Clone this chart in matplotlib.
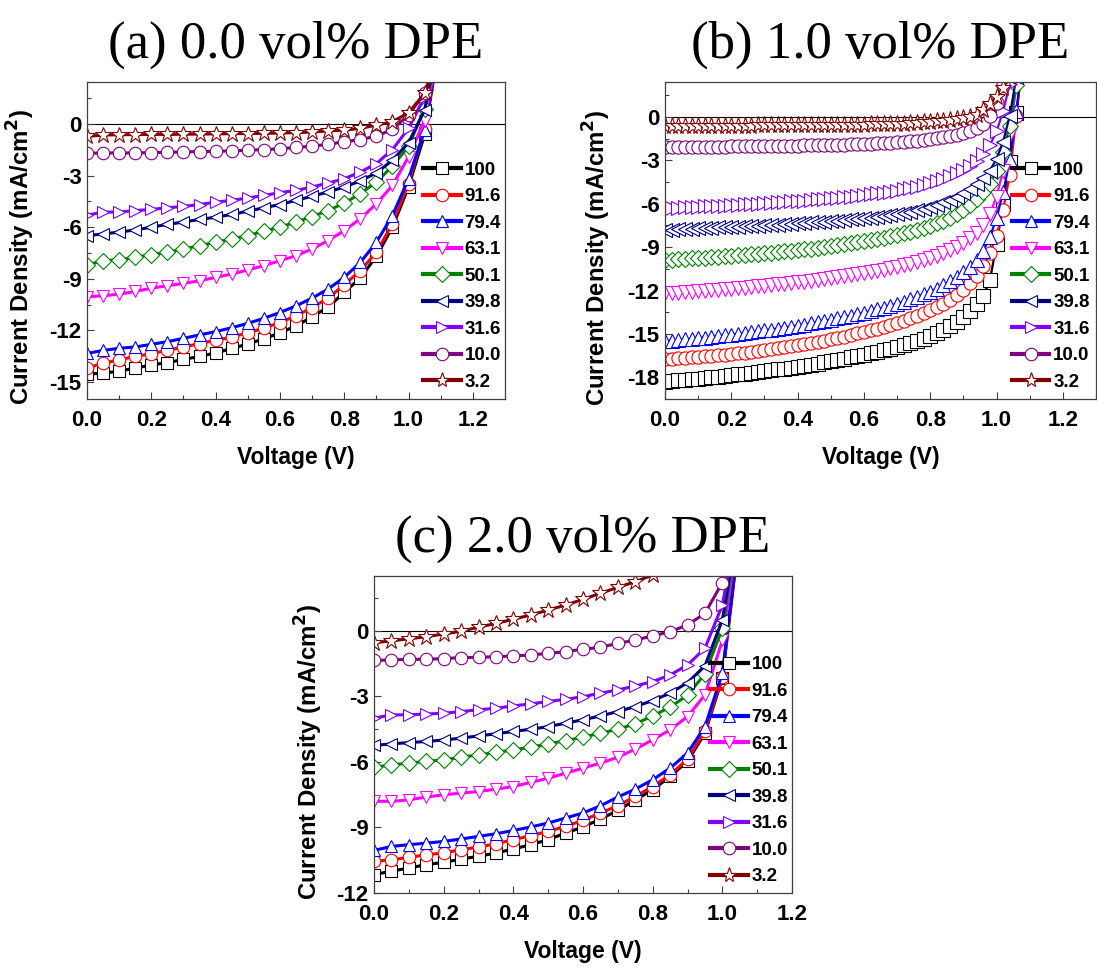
import numpy as np
import matplotlib
matplotlib.use("Agg")
import matplotlib.pyplot as plt
from matplotlib.lines import Line2D
from matplotlib.ticker import MultipleLocator, FormatStrFormatter

plt.rcParams['font.family'] = ['Liberation Sans', 'DejaVu Sans']
plt.rcParams['axes.unicode_minus'] = False

# ---------------- data ----------------
intensities = ["100", "91.6", "79.4", "63.1", "50.1", "39.8", "31.6", "10.0", "3.2"]
colors = ["#000000", "#FF0000", "#0000FF", "#FF00FF", "#008000", "#000080", "#8000FF", "#800080", "#800000"]
markers = ["s", "o", "^", "v", "D", "<", ">", "o", "*"]

titles = ["(a) 0.0 vol% DPE", "(b) 1.0 vol% DPE", "(c) 2.0 vol% DPE"]

# (a) 0.0 vol% DPE
V_a = [0.00, 0.05, 0.10, 0.15, 0.20, 0.25, 0.30, 0.35, 0.40, 0.45, 0.50, 0.55,
       0.60, 0.65, 0.70, 0.75, 0.80, 0.85, 0.90, 0.95, 1.00, 1.05, 1.10]
Ja_100 = [-14.55, -14.5, -14.38, -14.2, -14.02, -13.88, -13.7, -13.52, -13.32, -13.06, -12.8, -12.5,
          -12.15, -11.75, -11.22, -10.65, -9.8, -8.95, -7.7, -6.0, -3.65, -0.6, 5.2]
Ja_916 = [-14.2, -13.92, -13.72, -13.52, -13.36, -13.17, -12.97, -12.78, -12.58, -12.4, -12.14, -11.88,
          -11.55, -11.16, -10.68, -10.13, -9.35, -8.53, -7.46, -5.8, -3.47, -0.3, 5.3]
Ja_794 = [-13.35, -13.17, -13.05, -12.97, -12.82, -12.66, -12.47, -12.27, -12.08, -11.85, -11.6, -11.3,
          -10.97, -10.58, -10.13, -9.6, -8.92, -8.05, -6.88, -5.32, -3.18, -0.35, 5.3]
Ja_631 = [-10.05, -9.99, -9.9, -9.74, -9.55, -9.41, -9.27, -9.12, -8.92, -8.73, -8.49, -8.24,
          -7.95, -7.66, -7.27, -6.78, -6.2, -5.51, -4.64, -3.57, -1.9, 0.2, 5.2]
Ja_501 = [-8.2, -7.95, -7.9, -7.75, -7.6, -7.46, -7.27, -7.07, -6.88, -6.68, -6.49, -6.23,
          -6.0, -5.7, -5.38, -5.03, -4.6, -4.05, -3.37, -2.45, -1.29, 0.9, 5.5]
Ja_398 = [-6.5, -6.39, -6.29, -6.16, -6.0, -5.84, -5.7, -5.55, -5.42, -5.26, -5.07, -4.87,
          -4.68, -4.44, -4.2, -3.95, -3.66, -3.31, -2.84, -2.1, -1.09, 0.82, 5.5]
Ja_316 = [-5.3, -5.12, -5.12, -5.03, -4.97, -4.87, -4.79, -4.68, -4.54, -4.44, -4.3, -4.15,
          -3.99, -3.86, -3.66, -3.43, -3.18, -2.79, -2.3, -1.48, -0.25, 1.6, 5.5]
Ja_10 = [-1.7, -1.68, -1.68, -1.68, -1.66, -1.64, -1.62, -1.6, -1.58, -1.56, -1.52, -1.48,
         -1.44, -1.36, -1.29, -1.17, -1.03, -0.9, -0.7, -0.31, 0.53, 1.8, 4.5]
Ja_32 = [-0.72, -0.64, -0.62, -0.61, -0.6, -0.6, -0.59, -0.58, -0.57, -0.56, -0.55, -0.54,
         -0.52, -0.5, -0.46, -0.4, -0.35, -0.25, -0.06, 0.14, 0.66, 1.79, 4.0]

# (b) 1.0 vol% DPE
V_b = [0.00, 0.02, 0.04, 0.06, 0.08, 0.10, 0.12, 0.14, 0.16, 0.18, 0.20, 0.22, 0.24, 0.26,
       0.28, 0.30, 0.32, 0.34, 0.36, 0.38, 0.40, 0.42, 0.44, 0.46, 0.48, 0.50, 0.52, 0.54,
       0.56, 0.58, 0.60, 0.62, 0.64, 0.66, 0.68, 0.70, 0.72, 0.74, 0.76, 0.78, 0.80, 0.82,
       0.84, 0.86, 0.88, 0.90, 0.92, 0.94, 0.96, 0.98, 1.00, 1.02, 1.04, 1.06, 1.08]
Jb_100 = [-18.3, -18.26, -18.22, -18.18, -18.14, -18.1, -18.05, -18.0, -17.95, -17.9, -17.85, -17.8,
          -17.75, -17.7, -17.64, -17.58, -17.52, -17.46, -17.4, -17.33, -17.26, -17.19, -17.12,
          -17.05, -16.97, -16.89, -16.81, -16.72, -16.63, -16.54, -16.44, -16.34, -16.24, -16.13,
          -16.02, -15.9, -15.77, -15.63, -15.48, -15.32, -15.14, -14.94, -14.72, -14.47, -14.18,
          -13.84, -13.44, -12.96, -12.35, -11.3, -8.8, -6.0, -3.1, 0.3, 4.0]
Jb_916 = [-16.75, -16.72, -16.69, -16.66, -16.63, -16.6, -16.56, -16.52, -16.48, -16.44, -16.4, -16.35,
          -16.3, -16.25, -16.2, -16.1, -16.04, -15.98, -15.92, -15.85, -15.78, -15.71, -15.63,
          -15.55, -15.46, -15.37, -15.28, -15.18, -15.08, -14.97, -14.86, -14.75, -14.63, -14.5,
          -14.37, -14.23, -14.08, -13.92, -13.75, -13.57, -13.37, -13.15, -12.9, -12.62, -12.3,
          -11.93, -11.5, -11.0, -10.3, -9.4, -8.2, -6.4, -4.0, 0.1, 4.5]
Jb_794 = [-15.5, -15.46, -15.42, -15.38, -15.34, -15.3, -15.25, -15.2, -15.15, -15.1, -15.05, -15.0,
          -14.94, -14.88, -14.82, -14.76, -14.7, -14.63, -14.56, -14.49, -14.42, -14.35, -14.27,
          -14.19, -14.11, -14.02, -13.93, -13.84, -13.74, -13.64, -13.53, -13.42, -13.3, -13.18,
          -13.05, -12.91, -12.77, -12.61, -12.45, -12.27, -12.08, -11.87, -11.63, -11.37, -11.08,
          -10.75, -10.38, -9.9, -9.25, -8.3, -7.0, -5.2, -3.0, 0.4, 4.5]
Jb_631 = [-12.2, -12.17, -12.14, -12.11, -12.08, -12.05, -12.02, -11.99, -11.96, -11.92, -11.88, -11.84,
          -11.8, -11.76, -11.72, -11.68, -11.63, -11.58, -11.53, -11.48, -11.43, -11.38, -11.33,
          -11.27, -11.21, -11.15, -11.09, -11.02, -10.95, -10.88, -10.8, -10.72, -10.64, -10.55,
          -10.46, -10.36, -10.26, -10.15, -10.03, -9.9, -9.76, -9.6, -9.42, -9.22, -8.99,
          -8.72, -8.4, -8.0, -7.45, -6.7, -5.5, -3.7, -1.2, 2.2, 6.0]
Jb_501 = [-9.9, -9.87, -9.84, -9.81, -9.78, -9.75, -9.72, -9.69, -9.66, -9.63, -9.6, -9.57,
          -9.54, -9.5, -9.46, -9.42, -9.38, -9.34, -9.3, -9.25, -9.2, -9.15, -9.1,
          -9.05, -8.99, -8.93, -8.87, -8.81, -8.74, -8.67, -8.6, -8.52, -8.44, -8.35,
          -8.26, -8.16, -8.05, -7.94, -7.81, -7.67, -7.52, -7.35, -7.16, -6.95, -6.7,
          -6.42, -6.08, -5.68, -5.2, -4.6, -3.7, -2.4, -0.6, 2.2, 5.5]
Jb_398 = [-7.8, -7.78, -7.76, -7.74, -7.72, -7.7, -7.68, -7.66, -7.64, -7.62, -7.6, -7.58,
          -7.56, -7.54, -7.52, -7.5, -7.47, -7.44, -7.41, -7.38, -7.35, -7.32, -7.29,
          -7.26, -7.23, -7.2, -7.16, -7.12, -7.08, -7.04, -7.0, -6.95, -6.9, -6.84,
          -6.78, -6.71, -6.63, -6.54, -6.44, -6.33, -6.2, -6.06, -5.9, -5.72, -5.51,
          -5.27, -4.99, -4.66, -4.25, -3.7, -2.9, -1.7, 0.1, 2.8, 6.0]
Jb_316 = [-6.3, -6.28, -6.26, -6.24, -6.22, -6.2, -6.18, -6.16, -6.14, -6.12, -6.1, -6.08,
          -6.05, -6.02, -5.99, -5.96, -5.93, -5.9, -5.87, -5.84, -5.81, -5.78, -5.74,
          -5.7, -5.66, -5.62, -5.58, -5.54, -5.5, -5.45, -5.4, -5.35, -5.29, -5.23,
          -5.16, -5.09, -5.01, -4.92, -4.82, -4.71, -4.59, -4.45, -4.29, -4.11, -3.9,
          -3.66, -3.37, -3.02, -2.58, -1.95, -1.0, 0.4, 2.3, 4.5, 7.0]
Jb_10 = [-2.1, -2.09, -2.08, -2.08, -2.07, -2.07, -2.06, -2.06, -2.05, -2.05, -2.04, -2.04,
         -2.03, -2.03, -2.02, -2.02, -2.01, -2.01, -2.0, -1.99, -1.98, -1.97, -1.96,
         -1.95, -1.94, -1.93, -1.92, -1.91, -1.9, -1.88, -1.86, -1.84, -1.82, -1.8,
         -1.77, -1.74, -1.71, -1.67, -1.63, -1.58, -1.53, -1.47, -1.4, -1.32, -1.22,
         -1.1, -0.95, -0.75, -0.45, 0.1, 1.0, 2.2, 3.6, 5.0, 6.5]
Jb_32 = [-0.62, -0.62, -0.62, -0.61, -0.61, -0.61, -0.6, -0.6, -0.6, -0.6, -0.59, -0.59,
         -0.59, -0.59, -0.58, -0.58, -0.58, -0.58, -0.57, -0.57, -0.57, -0.56, -0.56,
         -0.56, -0.55, -0.55, -0.54, -0.54, -0.53, -0.53, -0.52, -0.51, -0.5, -0.49,
         -0.48, -0.47, -0.45, -0.43, -0.41, -0.38, -0.35, -0.31, -0.27, -0.22, -0.16,
         -0.08, 0.02, 0.15, 0.45, 0.9, 1.4, 2.0, 2.8, 3.9, 5.2]

# (c) 2.0 vol% DPE
V_c = [0.00, 0.05, 0.10, 0.15, 0.20, 0.25, 0.30, 0.35, 0.40, 0.45, 0.50, 0.55,
       0.60, 0.65, 0.70, 0.75, 0.80, 0.85, 0.90, 0.95, 1.00, 1.05]
Jc_100 = [-11.16, -11.0, -10.86, -10.7, -10.6, -10.45, -10.32, -10.17, -9.99, -9.79, -9.56, -9.26,
          -8.98, -8.62, -8.22, -7.74, -7.28, -6.67, -5.98, -4.69, -2.18, 4.5]
Jc_916 = [-10.55, -10.48, -10.37, -10.25, -10.17, -10.02, -9.9, -9.75, -9.56, -9.38, -9.18, -8.95,
          -8.68, -8.34, -8.01, -7.58, -7.13, -6.59, -5.88, -4.61, -2.1, 4.6]
Jc_794 = [-10.05, -9.87, -9.79, -9.72, -9.64, -9.53, -9.41, -9.29, -9.14, -8.98, -8.8, -8.57,
          -8.34, -8.01, -7.61, -7.25, -6.82, -6.29, -5.6, -4.39, -1.95, 4.7]
Jc_631 = [-7.8, -7.81, -7.74, -7.61, -7.51, -7.43, -7.36, -7.25, -7.13, -6.94, -6.75, -6.52,
          -6.29, -6.06, -5.79, -5.42, -4.99, -4.54, -3.93, -2.94, -0.45, 5.0]
Jc_501 = [-6.25, -6.14, -6.06, -5.98, -5.91, -5.79, -5.68, -5.57, -5.45, -5.33, -5.18, -5.03,
          -4.87, -4.69, -4.51, -4.26, -3.9, -3.5, -2.95, -1.98, 0.1, 5.2]
Jc_398 = [-5.25, -5.18, -5.12, -5.07, -5.0, -4.92, -4.81, -4.72, -4.61, -4.51, -4.39, -4.23,
          -4.08, -3.9, -3.7, -3.47, -3.2, -2.86, -2.38, -1.61, 0.49, 5.3]
Jc_316 = [-4.0, -3.85, -3.85, -3.81, -3.78, -3.7, -3.62, -3.55, -3.44, -3.35, -3.24, -3.14,
          -3.02, -2.86, -2.71, -2.53, -2.33, -2.03, -1.57, -0.81, 1.17, 5.5]
Jc_10 = [-1.36, -1.34, -1.31, -1.31, -1.28, -1.23, -1.22, -1.19, -1.16, -1.11, -1.04, -0.96,
         -0.85, -0.76, -0.58, -0.43, -0.24, -0.05, 0.26, 0.79, 2.2, 5.0]
Jc_32 = [-0.55, -0.47, -0.37, -0.28, -0.15, -0.03, 0.16, 0.33, 0.52, 0.72, 0.94, 1.17,
         1.43, 1.71, 1.98, 2.24, 2.54, 2.9, 3.3, 3.8, 4.4, 5.0]

panel_a = [Ja_100, Ja_916, Ja_794, Ja_631, Ja_501, Ja_398, Ja_316, Ja_10, Ja_32]
panel_b = [Jb_100, Jb_916, Jb_794, Jb_631, Jb_501, Jb_398, Jb_316, Jb_10, Jb_32]
panel_c = [Jc_100, Jc_916, Jc_794, Jc_631, Jc_501, Jc_398, Jc_316, Jc_10, Jc_32]

# ---------------- layout ----------------
W, H = 1097, 967
fig = plt.figure(figsize=(W / 100, H / 100), dpi=100)


def px_axes(l, t, r, b):
    return fig.add_axes([l / W, 1 - b / H, (r - l) / W, (b - t) / H])


def draw(ax, V, curves, xlim, ylim, title, lw, ms, legend_anchor, ylabel_xy):
    for J, c, m in zip(curves, colors, markers):
        msz = ms * (1.35 if m == '*' else (0.85 if m == 'D' else 1.0))
        ax.plot(V, J, color=c, lw=lw, marker=m, ms=msz, mfc='white', mec=c, mew=0.8,
                clip_on=True)
    ax.axhline(0, color='black', lw=0.8, zorder=0.5)
    ax.set_xlim(*xlim)
    ax.set_ylim(*ylim)
    ax.xaxis.set_major_locator(MultipleLocator(0.2))
    ax.xaxis.set_minor_locator(MultipleLocator(0.1))
    ax.xaxis.set_major_formatter(FormatStrFormatter('%.1f'))
    ax.yaxis.set_major_locator(MultipleLocator(3))
    ax.yaxis.set_minor_locator(MultipleLocator(1.5))
    ax.yaxis.set_major_formatter(FormatStrFormatter('%d'))
    ax.tick_params(which='both', direction='in', top=False, right=False, color='#404040')
    ax.tick_params(which='major', length=5, width=0.8)
    ax.tick_params(which='minor', length=3, width=0.8)
    ax.tick_params(axis='x', which='major', pad=8, labelsize=16)
    ax.tick_params(axis='y', which='major', pad=4, labelsize=16)
    for lab in ax.get_xticklabels() + ax.get_yticklabels():
        lab.set_fontweight('bold')
    for s in ax.spines.values():
        s.set_color('#404040')
        s.set_linewidth(0.9)
    ax.set_xlabel('Voltage (V)', fontsize=16.5, fontweight='bold', labelpad=11)
    ax.set_ylabel('Current Density (mA/cm$\\mathbf{^2}$)', fontsize=17.3, fontweight='bold')
    ax.yaxis.set_label_coords(*ylabel_xy)
    handles = [Line2D([], [], color=c, lw=3.0, marker=m,
                      ms=(11 if m == '*' else (8 if m == 'D' else 9)), mfc='white', mec=c, mew=0.8)
               for c, m in zip(colors, markers)]
    leg = ax.legend(handles, intensities, loc='center left', bbox_to_anchor=legend_anchor,
                    frameon=False, borderpad=0, borderaxespad=0, handlelength=2.0,
                    handletextpad=0.2, labelspacing=0.5,
                    prop={'family': 'Liberation Sans', 'weight': 'bold', 'size': 13.5})
    leg.set_zorder(5)
    # title
    bb = ax.get_position()
    fig.text((bb.x0 + bb.x1) / 2, bb.y1 + 24 / H, title, ha='center', va='baseline',
             fontsize=38, family='Liberation Serif')


ax_a = px_axes(87, 82, 505, 399)
draw(ax_a, V_a, panel_a, (0, 1.3), (-16, 2.45), titles[0], 2.2, 9, (0.805, 0.388),
     (-0.12, 0.447))

ax_b = px_axes(665, 82, 1096, 399)
draw(ax_b, V_b, panel_b, (0, 1.3), (-19.5, 2.42), titles[1], 1.6, 9.5, (0.805, 0.388),
     (-0.121, 0.446))

ax_c = px_axes(374, 576, 792, 893)
draw(ax_c, V_c, panel_c, (0, 1.2), (-12, 2.5), titles[2], 2.2, 9, (0.805, 0.386),
     (-0.117, 0.445))

fig.savefig('out.png', dpi=100)
